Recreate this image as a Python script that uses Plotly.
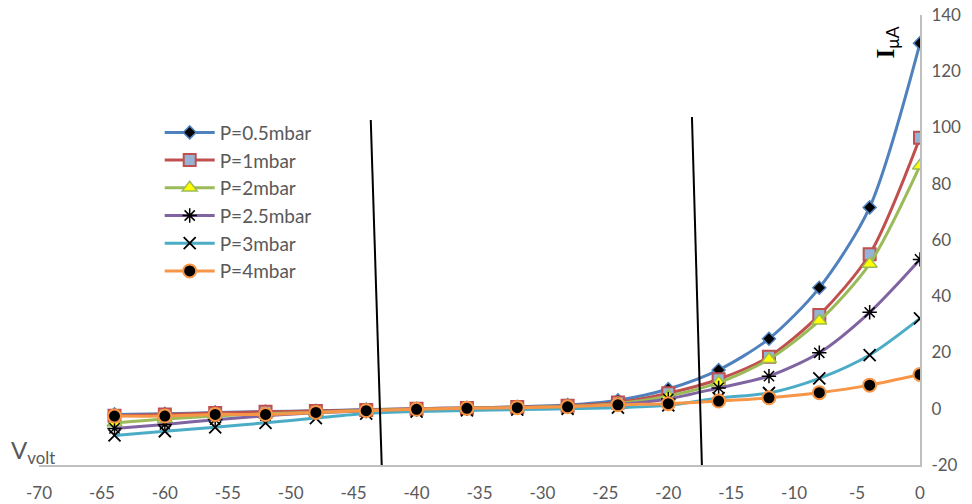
import plotly.graph_objects as go

voltage = [-64, -60, -56, -52, -48, -44, -40, -36, -32, -28, -24, -20, -16, -12, -8, -4, 0]

p05 = [-2.0, -1.8, -1.3, -1.0, -0.7, -0.3, 0.0, 0.3, 0.7, 1.3, 3.0, 7.0, 13.8, 24.9, 43.0, 71.6, 130.0]
p1 = [-2.5, -2.0, -1.5, -1.1, -0.8, -0.4, 0.0, 0.3, 0.6, 1.1, 2.2, 5.5, 10.5, 18.5, 33.3, 54.9, 96.4]
p2 = [-5.0, -3.6, -2.6, -1.8, -1.2, -0.6, -0.2, 0.1, 0.4, 0.9, 1.8, 4.5, 9.3, 17.6, 31.3, 51.5, 86.4]
p25 = [-7.0, -5.6, -3.9, -2.5, -1.4, -0.8, -0.3, 0.0, 0.3, 0.7, 1.5, 3.5, 7.4, 11.6, 19.9, 34.3, 53.1]
p3 = [-9.5, -8.0, -6.6, -5.0, -3.3, -1.7, -1.0, -0.6, -0.3, 0.0, 0.4, 1.2, 3.8, 5.6, 10.8, 19.1, 32.1]
p4 = [-2.6, -2.6, -2.0, -2.0, -1.3, -0.7, -0.2, 0.15, 0.4, 0.7, 1.4, 1.8, 2.75, 3.9, 5.7, 8.4, 12.2]

names = ["P=0.5mbar", "P=1mbar", "P=2mbar", "P=2.5mbar", "P=3mbar", "P=4mbar"]
series = [p05, p1, p2, p25, p3, p4]

# divider lines (x_top, y_top, x_bottom, y_bottom) in data units
divider1 = (-43.64, 102.7, -42.77, -20)
divider2 = (-18.12, 103.7, -17.33, -20)

x_ticks = list(range(-70, 1, 5))
x_labels = [str(v) for v in x_ticks]
y_ticks = list(range(-20, 141, 20))
y_labels = [str(v) for v in y_ticks]

styles = [
    dict(line="#4F81BD", marker=dict(symbol="diamond", size=10, color="black", line=dict(color="#4F81BD", width=1.5))),
    dict(line="#C0504D", marker=dict(symbol="square", size=12, color="#95B3D7", line=dict(color="#C0504D", width=2))),
    dict(line="#9BBB59", marker=dict(symbol="triangle-up", size=13, color="#FFFF00", line=dict(color="#9BBB59", width=1.5))),
    dict(line="#8064A2", marker=dict(symbol="asterisk-open", size=12, color="black", line=dict(color="black", width=1.5))),
    dict(line="#4BACC6", marker=dict(symbol="x-thin-open", size=12, color="black", line=dict(color="black", width=1.8))),
    dict(line="#F79646", marker=dict(symbol="circle", size=13, color="black", line=dict(color="#F79646", width=2))),
]

fig = go.Figure()
for name, vals, st in zip(names, series, styles):
    fig.add_trace(go.Scatter(
        x=voltage, y=vals, name=name, mode="lines+markers",
        line=dict(color=st["line"], width=3, shape="spline", smoothing=0.8),
        marker=st["marker"],
    ))

for d in (divider1, divider2):
    fig.add_shape(type="line", xref="x", yref="y", x0=d[0], y0=d[1], x1=d[2], y1=d[3],
                  line=dict(color="black", width=2))

fig.add_annotation(
    xref="paper", yref="paper", x=(904 - 39) / 881, y=(465 - 25) / 450,
    text="<span style='font-family:Liberation Serif'><b>I</b></span><sub>μA</sub>",
    textangle=-90, showarrow=False, font=dict(size=25, color="black", family="Lato"),
)
fig.add_annotation(
    xref="paper", yref="paper", x=(9 - 39) / 881, y=(465 - 470) / 450,
    text="V<sub>volt</sub>", showarrow=False,
    font=dict(size=24, color="#595959", family="Lato"),
)

fig.update_layout(
    width=972, height=504,
    margin=dict(l=39, r=52, t=15, b=39),
    paper_bgcolor="white", plot_bgcolor="white",
    font=dict(family="Lato", color="#595959", size=17),
    showlegend=True,
    legend=dict(x=0.137, y=0.781, xanchor="left", yanchor="top",
                font=dict(size=19, color="#595959"), itemwidth=50,
                bgcolor="rgba(0,0,0,0)"),
    xaxis=dict(range=[-70, 0], tickvals=x_ticks, ticktext=x_labels, showgrid=False, zeroline=False,
               showline=True, linecolor="#BFBFBF", linewidth=2, ticks="", automargin=False,
               ticklabelstandoff=12, tickfont=dict(size=17, color="#595959")),
    yaxis=dict(range=[-20, 140], tickvals=y_ticks, ticktext=y_labels, side="right", showgrid=False,
               zeroline=False, showline=True, linecolor="#BFBFBF", linewidth=2, ticks="",
               automargin=False, ticklabelstandoff=6, tickfont=dict(size=17, color="#595959")),
)

fig.write_html("out.html", config={"displayModeBar": False},
               post_script="document.body.style.margin='0';")
